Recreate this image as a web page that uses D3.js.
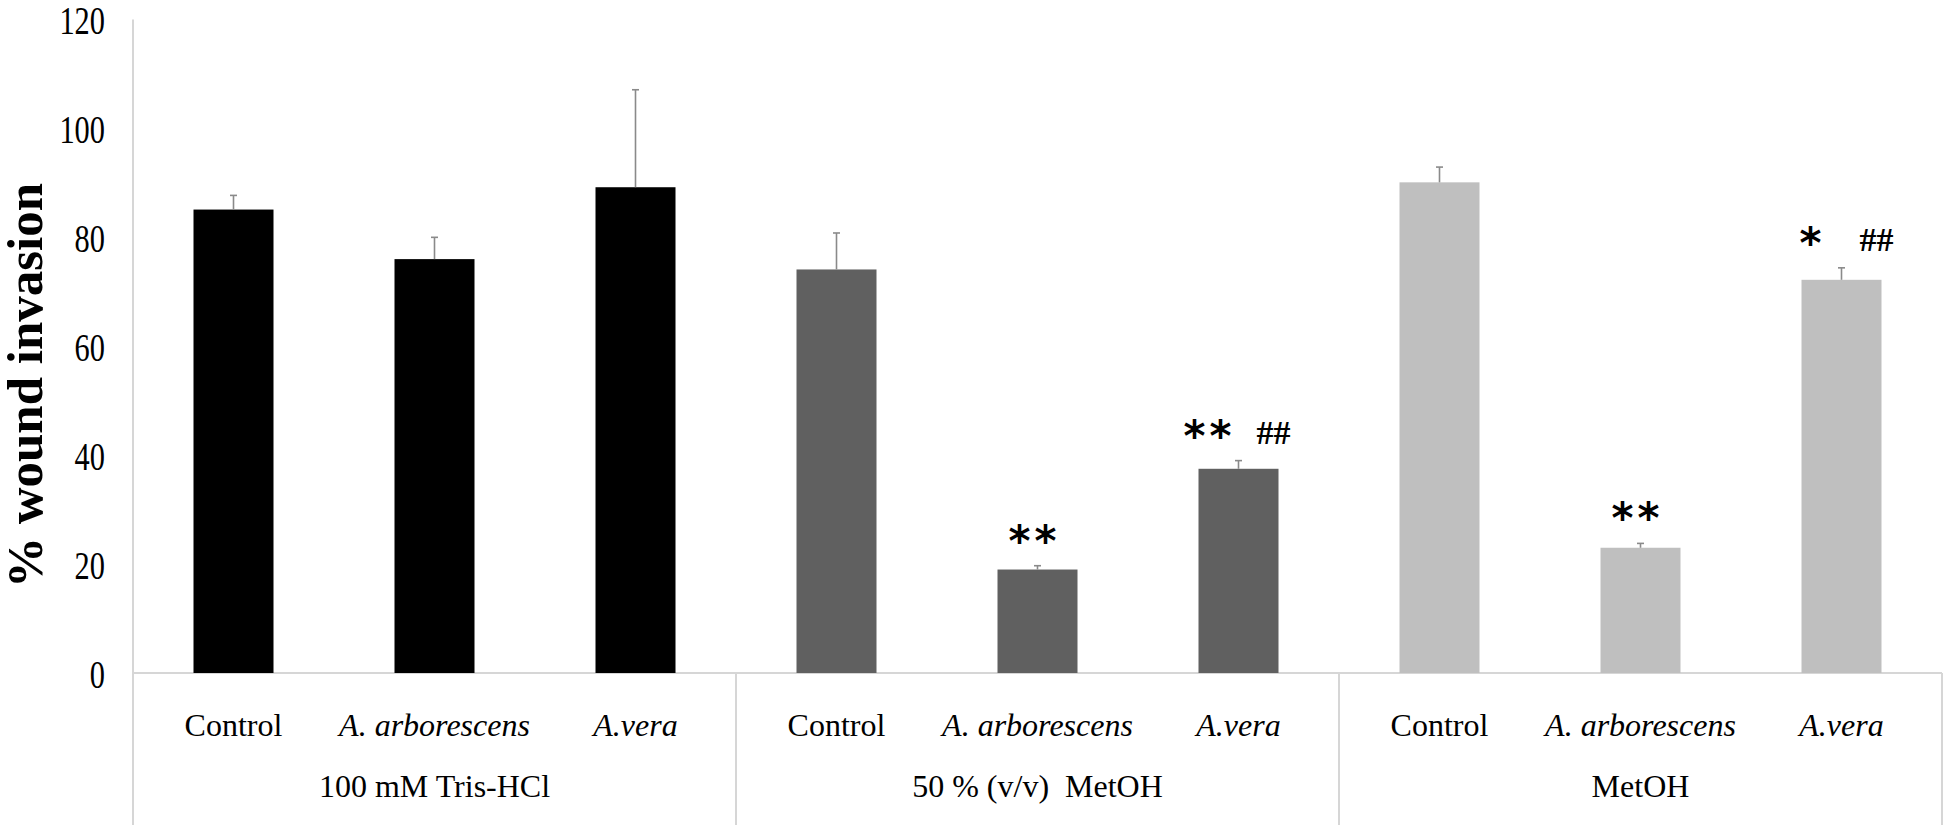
<!DOCTYPE html>
<html>
<head>
<meta charset="utf-8">
<script src="https://cdn.jsdelivr.net/npm/d3@7"></script>
<style>
  html, body { margin: 0; padding: 0; background: #ffffff; }
  svg { display: block; }
</style>
</head>
<body>
<svg id="chart" width="1946" height="828"></svg>
<script>
// ---- Data ----
const groups = ["100 mM Tris-HCl", "50 % (v/v)  MetOH", "MetOH"];
const categories = ["Control", "A. arborescens", "A.vera",
                    "Control", "A. arborescens", "A.vera",
                    "Control", "A. arborescens", "A.vera"];
const italicCats = [false, true, true, false, true, true, false, true, true];
const groupOf = [0, 0, 0, 1, 1, 1, 2, 2, 2];
const values = [85.1, 76.0, 89.2, 74.1, 19.0, 37.5, 90.1, 23.0, 72.2];
const errors = [2.6, 4.0, 17.9, 6.7, 0.7, 1.5, 2.8, 0.8, 2.2];
const sigStar = ["", "", "", "", "**", "**", "", "**", "*"];
const sigHash = ["", "", "", "", "", "##", "", "", "##"];
const yTicks = [0, 20, 40, 60, 80, 100, 120];
const groupColors = ["#000000", "#606060", "#bfbfbf"];

// ---- Layout ----
const left = 133, right = 1942, zeroY = 673, topY = 19.5, bottomY = 825;
const svg = d3.select("#chart");

const x = d3.scaleBand()
  .domain(d3.range(categories.length))
  .range([left, right])
  .paddingInner(0.602)
  .paddingOuter(0.301);
const y = d3.scaleLinear().domain([0, 120]).range([zeroY, topY]);

const axisColor = "#d6d6d6";
const serif = "'Liberation Serif', 'Times New Roman', serif";

// Y axis (labels only, condensed)
const yAxis = d3.axisLeft(y).tickValues(yTicks).tickSize(0).tickPadding(0);
const ga = svg.append("g").attr("transform", `translate(${left},0)`).call(yAxis);
ga.select(".domain").remove();
const sx = 0.76;
ga.selectAll(".tick text")
  .attr("font-family", serif)
  .attr("font-size", 40)
  .attr("fill", "#000")
  .attr("text-anchor", "end")
  .attr("x", -28 / sx)
  .attr("dy", "0.36em")
  .attr("transform", `scale(${sx},1)`);

// axis lines
svg.append("line").attr("x1", left).attr("x2", left).attr("y1", topY).attr("y2", bottomY)
  .attr("stroke", axisColor).attr("stroke-width", 2);
svg.append("line").attr("x1", left).attr("x2", right).attr("y1", zeroY).attr("y2", zeroY)
  .attr("stroke", axisColor).attr("stroke-width", 2);

// group separators
const groupEdges = groups.map((g, gi) => {
  const idx = d3.range(categories.length).filter(i => groupOf[i] === gi);
  const step = x.step();
  return { gi, start: x(idx[0]) - (step - x.bandwidth()) / 2,
           end: x(idx[idx.length - 1]) + x.bandwidth() + (step - x.bandwidth()) / 2 };
});
groupEdges.forEach(e => {
  svg.append("line").attr("x1", e.end).attr("x2", e.end).attr("y1", zeroY).attr("y2", bottomY)
    .attr("stroke", axisColor).attr("stroke-width", 2);
});

// bars
svg.append("g").selectAll("rect").data(values).join("rect")
  .attr("x", (d, i) => x(i))
  .attr("width", x.bandwidth())
  .attr("y", d => y(d))
  .attr("height", d => zeroY - y(d))
  .attr("fill", (d, i) => groupColors[groupOf[i]]);

// error bars
const eg = svg.append("g").attr("stroke", "#8a8a8a").attr("stroke-width", 1.6);
values.forEach((v, i) => {
  const cx = x(i) + x.bandwidth() / 2;
  eg.append("line").attr("x1", cx).attr("x2", cx).attr("y1", y(v)).attr("y2", y(v + errors[i]));
  eg.append("line").attr("x1", cx - 3.5).attr("x2", cx + 3.5)
    .attr("y1", y(v + errors[i])).attr("y2", y(v + errors[i]));
});

// significance annotations
values.forEach((v, i) => {
  const cx = x(i) + x.bandwidth() / 2;
  const cy = y(v + errors[i]) - 33;
  const hasHash = sigHash[i] !== "";
  if (sigStar[i]) {
    svg.append("text")
      .attr("x", hasHash ? cx - 29 : cx - 3)
      .attr("y", cy + 23)
      .attr("text-anchor", "middle")
      .attr("font-family", "'DejaVu Sans', sans-serif")
      .attr("font-weight", "bold")
      .attr("font-size", 42)
      .attr("letter-spacing", 4)
      .text(sigStar[i]);
  }
  if (hasHash) {
    svg.append("text")
      .attr("x", cx + 35)
      .attr("y", cy + 4 + 12)
      .attr("text-anchor", "middle")
      .attr("font-family", serif)
      .attr("font-weight", "bold")
      .attr("font-size", 34)
      .text(sigHash[i]);
  }
});

// category labels
svg.append("g").selectAll("text").data(categories).join("text")
  .attr("x", (d, i) => x(i) + x.bandwidth() / 2)
  .attr("y", 736)
  .attr("text-anchor", "middle")
  .attr("font-family", serif)
  .attr("font-size", 32)
  .attr("font-style", (d, i) => italicCats[i] ? "italic" : "normal")
  .text(d => d);

// group labels
svg.append("g").selectAll("text").data(groupEdges).join("text")
  .attr("x", e => (e.start + e.end) / 2)
  .attr("y", 797)
  .attr("text-anchor", "middle")
  .attr("font-family", serif)
  .attr("font-size", 32)
  .style("white-space", "pre")
  .text(e => groups[e.gi]);

// y title
svg.append("text")
  .attr("transform", `translate(42,385.5) rotate(-90)`)
  .attr("text-anchor", "middle")
  .attr("font-family", serif)
  .attr("font-weight", "bold")
  .attr("font-size", 50)
  .attr("textLength", 405)
  .attr("lengthAdjust", "spacingAndGlyphs")
  .text("% wound invasion");
</script>
</body>
</html>
